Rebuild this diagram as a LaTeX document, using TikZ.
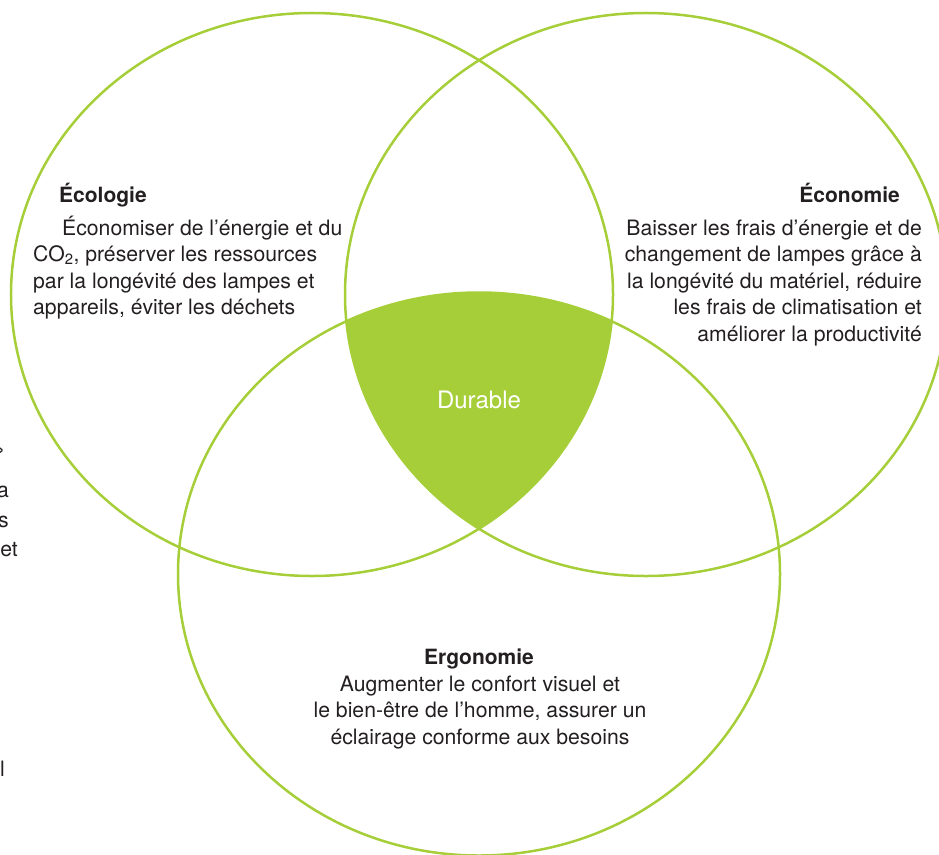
\documentclass[tikz,border=0pt]{standalone}
\usepackage{fontspec}
\setmainfont{TeX Gyre Heros}
\definecolor{venngreen}{RGB}{166,206,57}
\definecolor{textgray}{RGB}{35,31,32}
\begin{document}
\begin{tikzpicture}[x=1bp,y=-1bp,
    ring/.style={draw=venngreen,line width=2.5bp},
    body/.style={inner sep=0pt,text=textgray,font=\fontsize{21.2bp}{26.5bp}\selectfont},
    head/.style={body,font=\fontsize{21bp}{26.5bp}\selectfont\bfseries}]
  \useasboundingbox (0,0) rectangle (939,855);
  \coordinate (eco) at (312,294.5);
  \coordinate (econ) at (646,294.5);
  \coordinate (ergo) at (479,574);

  % common part of the three rings
  \begin{scope}
    \clip (eco) ellipse [x radius=301bp,y radius=281.5bp];
    \clip (econ) ellipse [x radius=301bp,y radius=281.5bp];
    \fill[venngreen] (ergo) ellipse [x radius=301bp,y radius=281.5bp];
  \end{scope}
  \draw[ring] (eco) ellipse [x radius=301bp,y radius=281.5bp];
  \draw[ring] (econ) ellipse [x radius=301bp,y radius=281.5bp];
  \draw[ring] (ergo) ellipse [x radius=301bp,y radius=281.5bp];

  \node[body,text=white,font=\fontsize{24bp}{28bp}\selectfont] (durable) at (479,400) {Durable};

  % base anchor of a multi-line node sits on its last line
  \node[head,anchor=base west] (ecolT) at (59,202) {Écologie};
  \node[body,anchor=base west,align=left] (ecolB) at (33,314.5)
    {\hspace*{29bp}Économiser de l’énergie et du\\
     CO\textsubscript{2}, préserver les ressources\\
     par la longévité des lampes et\\
     appareils, éviter les déchets};

  \node[head,anchor=base east] (econT) at (900,202) {Économie};
  \node[body,anchor=base east,align=right] (econB) at (922,341)
    {Baisser les frais d’énergie et de\\
     changement de lampes grâce à\\
     la longévité du matériel, réduire\\
     les frais de climatisation et\\
     améliorer la productivité};

  \node[head,anchor=base] (ergoT) at (479,664) {Ergonomie};
  \node[body,anchor=base,align=center] (ergoB) at (480,744)
    {Augmenter le confort visuel et\\
     le bien-être de l’homme, assurer un\\
     éclairage conforme aux besoins};

  % cut-off words at the left margin
  \node[body,anchor=base east] (m1) at (5,456) {»};
  \node[body,anchor=base east] (m2) at (9,497) {a};
  \node[body,anchor=base east] (m3) at (9,527) {s};
  \node[body,anchor=base east] (m4) at (18,556) {et};
  \node[body,anchor=base east] (m5) at (5,776) {l};
\end{tikzpicture}
\end{document}
